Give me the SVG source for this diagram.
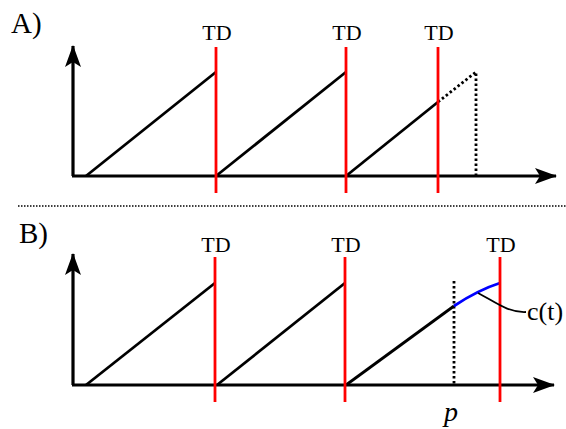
<svg xmlns="http://www.w3.org/2000/svg" width="566" height="429" viewBox="0 0 566 429">
<style>
.ax{stroke:#000;stroke-width:3.2;fill:none}
.ln{stroke:#000;stroke-width:2.8;fill:none}
.dot{stroke:#000;stroke-width:2.8;fill:none;stroke-dasharray:2.5 2.5}
.red{stroke:#f00;stroke-width:2.8;fill:none}
.blue{stroke:#00f;stroke-width:2.8;fill:none}
text{font-family:"Liberation Serif","Times New Roman",serif;fill:#000}
.t{font-size:22px}
.lab{font-size:29px}
.ctl{font-size:26px}
.p{font-size:28px;font-style:italic}
</style>
<defs>
<marker id="arr" viewBox="0 0 22 16" refX="21" refY="8" markerWidth="22" markerHeight="16" markerUnits="userSpaceOnUse" orient="auto">
<path d="M0,0 L22,8 L0,16 L5,8 Z" fill="#000"/>
</marker>
</defs>
<g id="panelA">
<text class="lab" x="11" y="33">A)</text>
<g id="axesA">
<path class="ax" d="M73,176 L73,46" marker-end="url(#arr)"/>
<path class="ax" d="M72,176 L556,176" marker-end="url(#arr)"/>
</g>
<g id="rampsA">
<path class="ln" d="M86,176 L216,72"/>
<path class="ln" d="M216,176 L346,72"/>
<path class="ln" d="M346,176 L438,102"/>
<path class="dot" d="M438,102 L476,72 L476,176"/>
</g>
<g id="tdA1"><line class="red" x1="216" y1="47" x2="216" y2="193"/><text class="t" x="217" y="40" text-anchor="middle">TD</text></g>
<g id="tdA2"><line class="red" x1="346" y1="47" x2="346" y2="193"/><text class="t" x="347" y="40" text-anchor="middle">TD</text></g>
<g id="tdA3"><line class="red" x1="438" y1="47" x2="438" y2="193"/><text class="t" x="439" y="40" text-anchor="middle">TD</text></g>
</g>
<line x1="18" y1="206" x2="566" y2="206" stroke="#000" stroke-width="1.5" stroke-dasharray="1.5 1.5"/>
<g id="panelB">
<text class="lab" x="19" y="243">B)</text>
<g id="axesB">
<path class="ax" d="M73,385 L73,254" marker-end="url(#arr)"/>
<path class="ax" d="M72,385 L554,385" marker-end="url(#arr)"/>
</g>
<g id="rampsB">
<path class="ln" d="M86,385 L215,283"/>
<path class="ln" d="M217,385 L345,283"/>
<path class="ln" d="M346,385 L454,306"/>
<path class="dot" d="M454,281 L454,385"/>
<path class="blue" d="M454,306 Q478,290 500,283"/>
</g>
<g id="tdB1"><line class="red" x1="215" y1="257" x2="215" y2="402"/><text class="t" x="216" y="252" text-anchor="middle">TD</text></g>
<g id="tdB2"><line class="red" x1="345" y1="257" x2="345" y2="402"/><text class="t" x="346" y="252" text-anchor="middle">TD</text></g>
<g id="tdB3"><line class="red" x1="500" y1="257" x2="500" y2="402"/><text class="t" x="501" y="252" text-anchor="middle">TD</text></g>
<g id="ct">
<path d="M478,293 C494,301 508,313 526,312" stroke="#000" stroke-width="1.8" fill="none"/>
<text class="ctl" x="527" y="320">c(t)</text>
</g>
<text class="p" x="444" y="421">p</text>
</g>
</svg>
